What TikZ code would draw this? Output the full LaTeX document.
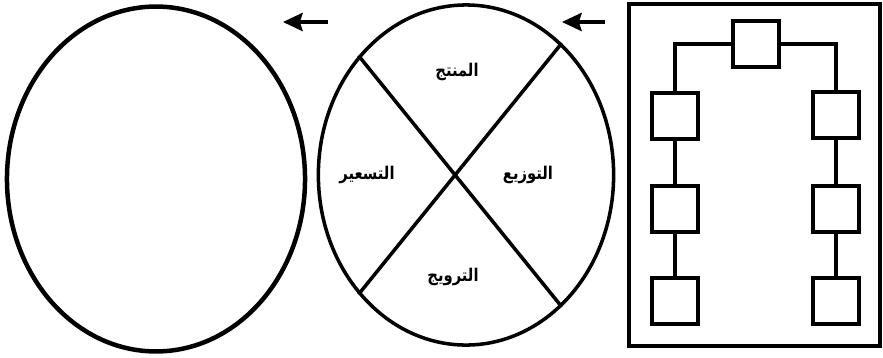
\documentclass[tikz,border=0pt]{standalone}
\usepackage{fontspec}
\usetikzlibrary{arrows.meta,positioning,shapes.geometric}
\TeXXeTstate=1
\newfontfamily\arabicfont[Script=Arabic]{DejaVu Sans}
\newcommand{\arlabel}[1]{\scalebox{0.84}[1]{\arabicfont\bfseries\beginR #1\endR}}

\begin{document}
\begin{tikzpicture}[x=0.025cm,y=-0.025cm,
      oval/.style={draw,ellipse,inner sep=0pt},
      blk/.style={draw,minimum size=1.15cm,inner sep=0pt,line width=3pt},
      lbl/.style={font=\fontsize{12.5}{14}\selectfont},
      pnt/.style={-{Stealth[length=14pt,width=13pt,inset=2pt]},line width=2.3pt}]

    \useasboundingbox (0,0) rectangle (883,357);

    % the two ovals
    \node[oval,line width=3.2pt,minimum width=7.45cm,minimum height=8.62cm] (empty) at (156,179) {};
    \node[oval,line width=2.5pt,minimum width=7.38cm,minimum height=8.5cm] (mix) at (466,175) {};
    \draw[line width=2.5pt] (mix.132) -- (mix.-54);
    \draw[line width=2.5pt] (mix.54) -- (mix.-132);

    \node[lbl] (prod) at (457,72) {\arlabel{المنتج}};
    \node[lbl] (dist) at (528,175) {\arlabel{التوزيع}};
    \node[lbl] (price) at (367,175) {\arlabel{التسعير}};
    \node[lbl] (promo) at (453,277) {\arlabel{الترويج}};

    \coordinate (a1s) at (328,22);
    \coordinate (a1e) at (283,22);
    \coordinate (a2s) at (605,22);
    \coordinate (a2e) at (562,22);
    \draw[pnt] (a1s) -- (a1e);
    \draw[pnt] (a2s) -- (a2e);

    % org chart in a frame
    \draw[line width=3pt] (629,4) rectangle (880,346);
    \node[blk] (top) at (756,44) {};
    \foreach \n/\x/\y in {l1/675/116,l2/675/209,l3/675/301,r1/836/115,r2/836/209,r3/836/301}
      \node[blk] (\n) at (\x,\y) {};
    \draw[line width=3pt] (top.west) -| (l1.north);
    \draw[line width=3pt] (top.east) -| (r1.north);
    \foreach \a/\b in {l1/l2,l2/l3,r1/r2,r2/r3}
      \draw[line width=3pt] (\a) -- (\b);
  \end{tikzpicture}
\end{document}
